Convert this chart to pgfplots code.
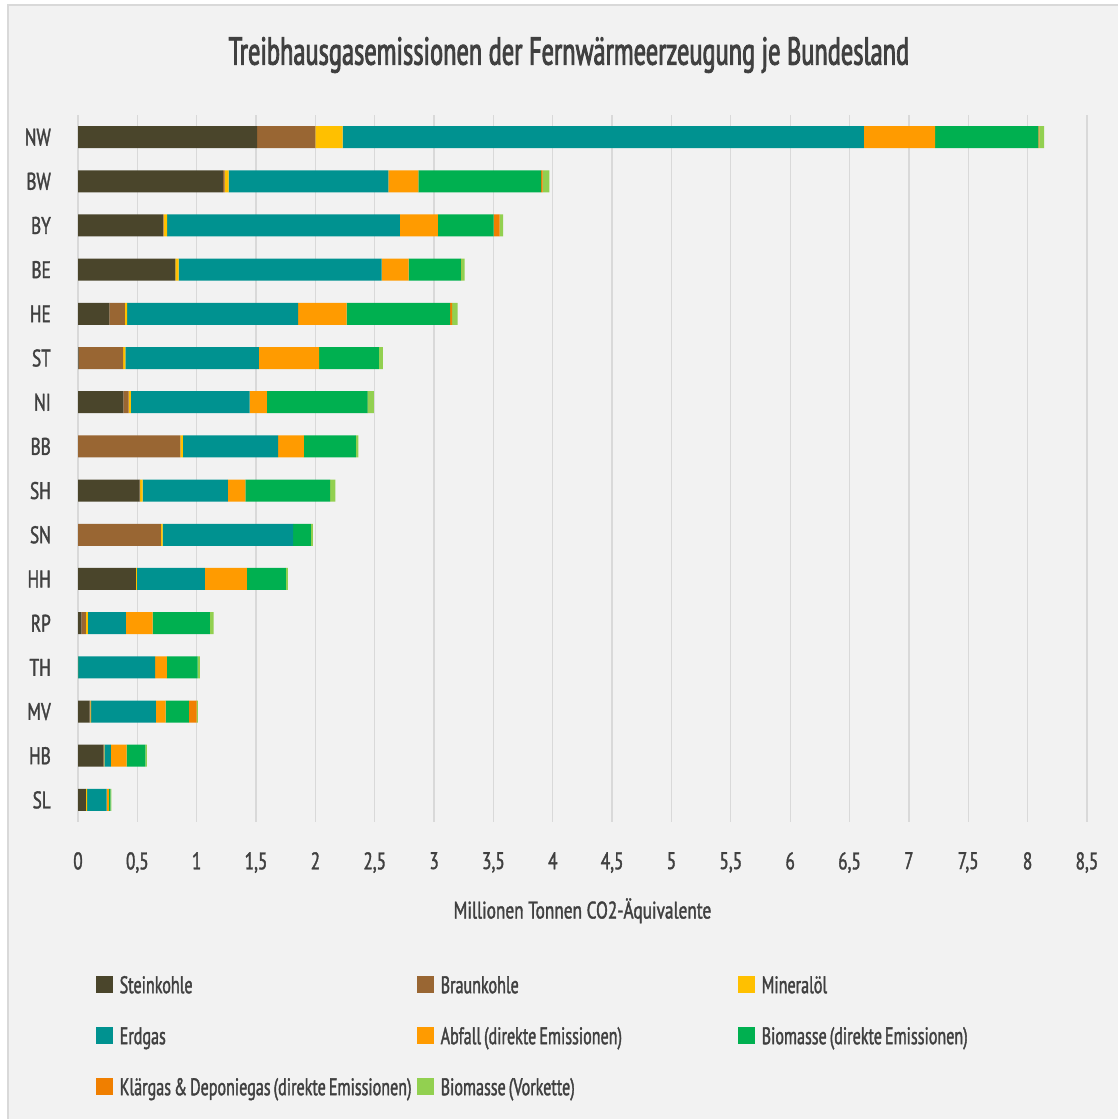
\documentclass[border=0pt]{standalone}
\usepackage{pgfplots}
\usepackage{pgfplotstable}
\pgfplotsset{compat=1.18}
\usepackage{fontspec}
\setmainfont{PT Sans}[FakeStretch=0.72, FakeBold=1.5]
\newfontfamily\titlefont{PT Sans}[FakeStretch=0.625, FakeBold=2.2]
\newfontfamily\legfont{PT Sans}[FakeStretch=0.67, FakeBold=1.5, WordSpace=0.7]
\definecolor{txt}{HTML}{404040}
\definecolor{bg}{HTML}{F2F2F2}
\definecolor{gridc}{HTML}{D9D9D9}
\definecolor{cstein}{HTML}{4A452B}
\definecolor{cbraun}{HTML}{996633}
\definecolor{cmin}{HTML}{FFC000}
\definecolor{cerd}{HTML}{009290}
\definecolor{cabf}{HTML}{FF9B00}
\definecolor{cbio}{HTML}{00B050}
\definecolor{cklae}{HTML}{F07F00}
\definecolor{cvork}{HTML}{92D050}

\pgfplotstableread{
idx stein braun mineral erdgas abfall bio klaer vork
0  1.510 0.490 0.230 4.390 0.600 0.870 0.010 0.040
1  1.220 0.015 0.035 1.345 0.253 1.033 0.014 0.056
2  0.716 0.005 0.030 1.960 0.320 0.470 0.050 0.030
3  0.820 0.000 0.028 1.710 0.227 0.440 0.003 0.030
4  0.264 0.130 0.020 1.440 0.410 0.870 0.017 0.047
5  0.005 0.375 0.020 1.124 0.508 0.503 0.000 0.033
6  0.382 0.045 0.019 1.000 0.146 0.848 0.003 0.050
7  0.000 0.862 0.022 0.803 0.216 0.438 0.000 0.022
8  0.519 0.005 0.020 0.718 0.149 0.713 0.000 0.045
9  0.000 0.699 0.014 1.100 0.000 0.149 0.000 0.017
10 0.488 0.000 0.009 0.572 0.354 0.329 0.000 0.016
11 0.028 0.039 0.017 0.320 0.225 0.483 0.000 0.031
12 0.000 0.000 0.002 0.648 0.099 0.258 0.000 0.020
13 0.098 0.007 0.005 0.547 0.081 0.197 0.064 0.011
14 0.213 0.005 0.005 0.055 0.132 0.157 0.000 0.014
15 0.067 0.000 0.009 0.165 0.020 0.012 0.000 0.008
}\datatable

\newcommand{\legbox}[1]{\makebox[297.5pt][l]{#1}}

\begin{document}
\begin{tikzpicture}
\useasboundingbox (0pt,0pt) rectangle (1118pt,1119pt);
\fill[white] (0pt,0pt) rectangle (1118pt,1119pt);
\filldraw[fill=bg, draw=gridc, line width=1.5pt] (8pt,1114pt) rectangle (1140pt,-20pt);
\begin{axis}[
  at={(78pt,297pt)}, anchor=south west,
  scale only axis, width=1009pt, height=707pt,
  xbar stacked, bar width=22pt,
  xmin=0, xmax=8.5, ymin=-0.5, ymax=15.5,
  y dir=reverse,
  xtick={0,0.5,...,8.5},
  ytick={0,...,15},
  yticklabels={NW,BW,BY,BE,HE,ST,NI,BB,SH,SN,HH,RP,TH,MV,HB,SL},
  xmajorgrids, ymajorgrids=false,
  major grid style={line width=1.3pt, color=gridc},
  axis line style={draw=none},
  major tick length=0pt,
  tick label style={font=\fontsize{24}{28}\selectfont, text=txt},
  xticklabel style={anchor=north, inner sep=0pt, yshift=-30pt},
  yticklabel style={anchor=east, inner sep=0pt, xshift=-27pt},
  /pgf/number format/.cd, use comma, 1000 sep={}, assume math mode=true, /pgfplots/.cd,
  title={Treibhausgasemissionen der Fernwärmeerzeugung je Bundesland},
  title style={at={(axis description cs:0.4866,1.0627)}, anchor=base, inner sep=0pt,
    font=\titlefont\fontsize{39}{44}\selectfont, text=txt},
  xlabel={Millionen Tonnen CO2-Äquivalente},
  xlabel style={at={(axis description cs:0.5,-0.1365)}, anchor=base, inner sep=0pt,
    font=\fontsize{24}{28}\selectfont, text=txt},
  legend columns=3,
  legend cell align=left,
  legend image code/.code={\fill (0pt,0pt) rectangle (16.5pt,16.7pt);},
  legend style={at={(axis description cs:0.01784,-0.2178)}, anchor=north west,
    draw=none, fill=none, inner sep=0pt, column sep=0pt, row sep=34pt,
    font=\legfont\fontsize{24}{28}\selectfont, text=txt,
    nodes={inner sep=0pt, anchor=base west, text height=17pt, text depth=0pt},
    /tikz/every odd column/.style={column sep=7pt}},
  every axis plot/.append style={draw=none},
]
\addplot[fill=cstein] table[x=stein, y=idx] {\datatable};
\addplot[fill=cbraun] table[x=braun, y=idx] {\datatable};
\addplot[fill=cmin] table[x=mineral, y=idx] {\datatable};
\addplot[fill=cerd] table[x=erdgas, y=idx] {\datatable};
\addplot[fill=cabf] table[x=abfall, y=idx] {\datatable};
\addplot[fill=cbio] table[x=bio, y=idx] {\datatable};
\addplot[fill=cklae] table[x=klaer, y=idx] {\datatable};
\addplot[fill=cvork] table[x=vork, y=idx] {\datatable};
\legend{\legbox{Steinkohle}, \legbox{Braunkohle}, \legbox{Mineralöl}, \legbox{Erdgas}, \legbox{Abfall (direkte Emissionen)}, \legbox{Biomasse (direkte Emissionen)}, \legbox{Klärgas \& Deponiegas (direkte Emissionen)}, \legbox{Biomasse (Vorkette)}}
\end{axis}
\end{tikzpicture}
\end{document}
